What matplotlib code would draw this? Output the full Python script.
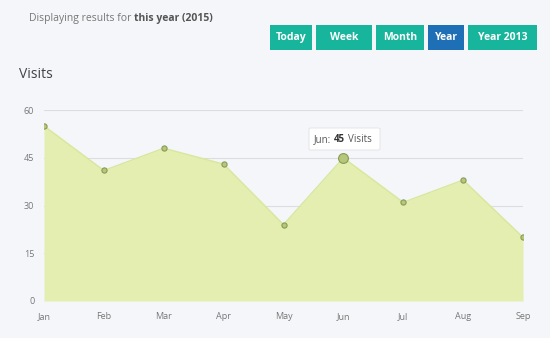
import matplotlib.pyplot as plt
from matplotlib.patches import Rectangle, FancyBboxPatch

plt.rcParams['font.family'] = ['Open Sans', 'DejaVu Sans']

months = ['Jan', 'Feb', 'Mar', 'Apr', 'May', 'Jun', 'Jul', 'Aug', 'Sep']
visits = [55, 41, 48, 43, 24, 45, 31, 38, 20]
y_ticks = [0, 15, 30, 45, 60]
buttons = ['Today', 'Week', 'Month', 'Year', 'Year 2013']
active_button = 'Year'

W, H = 550, 338
bg = '#f4f6fa'
fig = plt.figure(figsize=(W / 100, H / 100), dpi=100, facecolor=bg)

def fx(px):
    return px / W

def fy(py):
    return 1 - py / H

ax = fig.add_axes([fx(44), fy(301), fx(523) - fx(44), fy(110) - fy(301)])
ax.set_facecolor(bg)
x = list(range(len(months)))
ax.fill_between(x, visits, 0, color='#e3eeb0', lw=0)
ax.plot(x, visits, color='#d8e79c', lw=1)
ax.scatter(x, visits, s=14, facecolor='#b5c77a', edgecolor='#8a9a55', lw=0.8, zorder=3)
# highlighted point (tooltip)
hi = months.index('Jun')
ax.scatter([hi], [visits[hi]], s=50, facecolor='#b5c77a', edgecolor='#8a9a55', lw=0.8, zorder=4)

ax.set_xlim(0, len(months) - 1)
ax.set_ylim(0, 60)
ax.set_yticks(y_ticks)
ax.set_xticks(x)
ax.set_xticklabels(months)
ax.grid(axis='y', color='#dcdde0', lw=0.8)
ax.set_axisbelow(True)
for s in ax.spines.values():
    s.set_visible(False)
ax.tick_params(length=0, labelsize=6.5, colors='#777777')
ax.tick_params(axis='y', pad=7)
ax.tick_params(axis='x', pad=8)

# header text
t = fig.text(fx(29), fy(18), 'Displaying results for', fontsize=7.5, color='#777777', va='center')
fig.canvas.draw()
bb = t.get_window_extent()
fig.text((bb.x1 + 3) / W, fy(18), 'this year (2015)', fontsize=7.5, color='#555555',
         weight='bold', va='center')

fig.text(fx(19), fy(75), 'Visits', fontsize=10, color='#444444', va='center')

# buttons
btn_x = [270, 316, 376, 428, 468]
btn_w = [42, 56, 48, 36, 69]
for label, bx, bw in zip(buttons, btn_x, btn_w):
    c = '#1f6fb6' if label == active_button else '#17b59c'
    fig.patches.append(Rectangle((fx(bx), fy(50)), bw / W, 25 / H, transform=fig.transFigure,
                                 facecolor=c, edgecolor='none'))
    fig.text(fx(bx + bw / 2), fy(37.5), label, fontsize=7.5, color='white', weight='bold',
             ha='center', va='center')

# tooltip
fig.patches.append(FancyBboxPatch((fx(309), fy(150)), 71 / W, 22 / H, transform=fig.transFigure,
                                  boxstyle='round,pad=0,rounding_size=0.004',
                                  facecolor='white', edgecolor='#e2e2e2', lw=0.6))
t1 = fig.text(fx(314), fy(139.5), 'Jun:', fontsize=7, color='#555555', va='center')
fig.canvas.draw()
b1 = t1.get_window_extent()
t2 = fig.text((b1.x1 + 3) / W, fy(139.5), str(visits[hi]), fontsize=7, color='#333333',
              weight='bold', va='center')
fig.canvas.draw()
b2 = t2.get_window_extent()
fig.text((b2.x1 + 3) / W, fy(139.5), 'Visits', fontsize=7, color='#555555', va='center')

fig.savefig('out.png', dpi=100, facecolor=bg)
